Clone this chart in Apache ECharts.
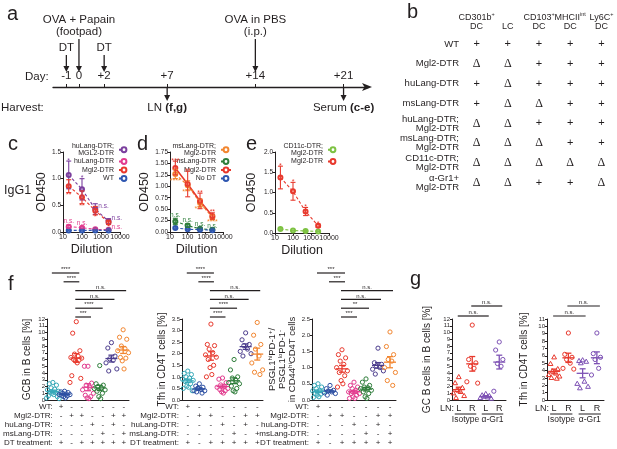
<!DOCTYPE html>
<html>
<head>
<meta charset="utf-8">
<script src="https://cdn.jsdelivr.net/npm/echarts@6/dist/echarts.min.js"></script>
<style>
html, body { margin: 0; padding: 0; background: #fff; }
#chart { width: 617px; height: 449px; }
</style>
</head>
<body>
<div id="chart"></div>
<script>
// ---- a: timeline ----
const dayTicks = [-1, 0, 2, 7, 14, 21];
const injections = [[-1, 'DT'], [0, 'OVA + Papain\n(footpad)'], [2, 'DT'], [14, 'OVA in PBS\n(i.p.)']];
const harvests = [[7, 'LN {b|(f,g)}'], [21, 'Serum {b|(c-e)}']];

// ---- b: depletion table ----
const cellTypes = ['CD301b{s|+}\nDC', 'LC', 'CD103{s|+}\nDC', 'MHCII{s|int}\nDC', 'Ly6C{s|+}\nDC'];
const mouseLines = ['WT', 'Mgl2-DTR', 'huLang-DTR', 'msLang-DTR', 'huLang-DTR;\nMgl2-DTR',
    'msLang-DTR;\nMgl2-DTR', 'CD11c-DTR;\nMgl2-DTR', 'α-Gr1+\nMgl2-DTR'];
const depletion = ['+++++', 'ΔΔ+++', '+Δ+++', '+ΔΔ++', 'ΔΔ+++', 'ΔΔΔ++', 'ΔΔΔΔΔ', 'ΔΔ++Δ'];

// ---- c-e: IgG1 ELISA ----
const dilutions = [20, 100, 500, 2500];
const cGroups = ['huLang-DTR;\nMGL2-DTR', 'huLang-DTR', 'Mgl2-DTR', 'WT'];
const cMeans = [[1.07, 0.80, 0.43, 0.20], [0.10, 0.08, 0.05, 0.04], [0.86, 0.65, 0.40, 0.18], [0.03, 0.03, 0.03, 0.03]];
const cSem = [[0.26, 0.20, 0.10, 0.05], [0.03, 0.02, 0.01, 0.01], [0.12, 0.12, 0.08, 0.04], [0.01, 0.01, 0.01, 0.01]];
const cNotes = [['*', '*', 'n.s.', 'n.s.'], ['n.s.', 'n.s.', '', 'n.s.'], ['**', '**', '*', '*'], ['', '', '', '']];

const dGroups = ['msLang-DTR;\nMgl2-DTR', 'msLang-DTR', 'Mgl2-DTR', 'No DT'];
const dMeans = [[1.27, 1.02, 0.64, 0.32], [0.23, 0.14, 0.07, 0.05], [1.40, 1.05, 0.68, 0.35], [0.09, 0.06, 0.05, 0.04]];
const dSem = [[0.10, 0.10, 0.08, 0.05], [0.07, 0.04, 0.02, 0.01], [0.15, 0.28, 0.17, 0.07], [0.02, 0.01, 0.01, 0.01]];
const dNotes = [['****', '****', '****', '****'], ['n.s.', 'n.s.', 'n.s.', 'n.s.'], ['***', '**', '**', '**'], ['', '', '', '']];

const eGroups = ['CD11c-DTR;\nMgl2-DTR', 'Mgl2-DTR'];
const eMeans = [[0.10, 0.06, 0.05, 0.04], [1.37, 1.03, 0.53, 0.18]];
const eSem = [[0.02, 0.01, 0.01, 0.01], [0.28, 0.22, 0.10, 0.04]];
const eNotes = [['', '', '', ''], ['*', '*', '*', '*']];

// ---- f: LN dot plots ----
const fCats = ['1', '2', '3', '4', '5', '6', '7'];
const fRows = ['WT:', 'Mgl2-DTR:', 'huLang-DTR:', 'msLang-DTR:', 'DT treatment:'];
const fTable = [
    ['+', '-', '-', '-', '-', '-', '-'],
    ['-', '+', '+', '-', '-', '+', '+'],
    ['-', '-', '-', '+', '-', '+', '-'],
    ['-', '-', '-', '-', '+', '-', '+'],
    ['+', '-', '+', '+', '+', '+', '+']
];
const gcbValues = [
    [2.6, 2.4, 2.2, 1.8, 1.6, 1.5, 1.3, 1.2, 1.1, 1.0, 0.8, 0.6, 0.5, 0.3, 0.2],
    [1.3, 1.2, 1.1, 1.0, 0.9, 0.8, 0.8, 0.7, 0.6, 0.5, 0.3],
    [11.6, 9.9, 7.3, 6.8, 6.5, 6.3, 6.2, 6.0, 5.9, 5.8, 5.5, 3.6, 3.2, 2.6],
    [5.0, 5.0, 2.5, 2.2, 1.9, 1.5, 1.0, 0.7, 0.5, 0.3, 0.2],
    [5.1, 2.4, 2.2, 2.0, 1.8, 1.7, 1.5, 1.3, 1.0, 0.5, 0.2],
    [8.5, 7.7, 6.5, 6.1, 5.9, 5.5, 4.6, 4.3],
    [10.4, 9.3, 9.0, 8.0, 7.6, 7.3, 7.0, 6.3, 6.2, 5.8, 4.6]
];
const tfhValues = [
    [1.25, 1.15, 1.1, 1.0, 0.95, 0.9, 0.85, 0.8, 0.7, 0.6, 0.55, 0.5, 0.4],
    [0.7, 0.6, 0.55, 0.5, 0.45, 0.4, 0.4, 0.35, 0.3, 0.5],
    [3.28, 2.4, 2.35, 2.2, 2.05, 1.95, 1.85, 1.75, 1.5, 1.4, 1.1, 1.0],
    [0.95, 0.9, 0.75, 0.65, 0.6, 0.55, 0.5, 0.45, 0.4, 0.35, 0.3],
    [1.75, 1.3, 1.0, 0.95, 0.85, 0.75, 0.7, 0.6, 0.5, 0.4, 0.35],
    [2.9, 2.6, 2.4, 2.35, 2.2, 2.1, 2.0, 1.9],
    [3.35, 2.8, 2.4, 2.2, 1.9, 1.6, 1.3, 1.2, 1.1]
];
const psglValues = [
    [0.5, 0.45, 0.4, 0.35, 0.3, 0.28, 0.25, 0.2, 0.18, 0.15, 0.1, 0.08],
    [0.45, 0.35, 0.3, 0.28, 0.25, 0.22, 0.2, 0.15],
    [1.55, 1.4, 1.3, 1.2, 1.1, 1.0, 0.9, 0.85, 0.75, 0.6, 0.5, 0.4],
    [0.55, 0.45, 0.4, 0.35, 0.3, 0.25, 0.2, 0.2, 0.15, 0.1, 0.05, 0.05],
    [0.65, 0.55, 0.45, 0.4, 0.38, 0.35, 0.3, 0.25, 0.2, 0.1, 0.05],
    [1.6, 1.15, 1.1, 1.05, 1.0, 0.95, 0.9, 0.8],
    [2.1, 1.65, 1.4, 1.25, 1.2, 1.0, 0.85, 0.6, 0.45]
];
const gcbSig = [[2, 3, '***'], [2, 4, '****'], [2, 5, 'n.s.'], [2, 6, 'n.s.'], [1, 2, '****'], [0, 2, '****']];
const tfhSig = [[2, 3, '****'], [2, 4, '****'], [2, 5, 'n.s.'], [2, 6, 'n.s.'], [1, 2, '****'], [0, 2, '****']];
const psglSig = [[2, 3, '***'], [2, 4, '**'], [2, 5, 'n.s.'], [2, 6, 'n.s.'], [1, 2, '***'], [0, 2, '***']];

// ---- g: anti-Gr1 ----
const gCats = ['L', 'R', 'L', 'R'];
const gTreat = [['Isotype', 0, 1], ['α-Gr1', 2, 3]];
const gcValues = [
    [3.4, 2.5, 1.8, 1.5, 1.2, 1.0, 0.6, 0.3],
    [11.1, 6.0, 5.5, 5.0, 4.7, 2.7, 2.5],
    [0.9, 0.7, 0.6, 0.5, 0.4, 0.3, 0.2],
    [8.6, 7.4, 6.0, 5.4, 5.0, 1.3]
];
const gTfhValues = [
    [5.8, 4.9, 4.2, 3.9, 3.6, 3.4, 3.2, 3.0, 2.9],
    [9.1, 6.2, 5.8, 5.5, 5.0, 4.3, 4.2],
    [5.4, 5.3, 5.2, 5.0, 2.5, 2.2, 1.8, 1.6],
    [9.1, 6.3, 5.8, 5.5, 4.3, 3.4]
];
const gSig = [[0, 2, 'n.s.'], [1, 3, 'n.s.']];

// ---- drawing ----
const FONT = '"Liberation Sans", Arial, sans-serif';
const INK = '#231f20';
const RED = '#e8392d';
const JIT = [0, -3.6, 3.6, -1.8, 1.8, -5.4, 5.4, -2.7, 2.7, -0.9, 0.9, -4.5, 4.5, -6.3, 6.3];

const grids = [], xAxes = [], yAxes = [], series = [], legends = [], graphics = [];

function addGrid(g, x, y) {
    const i = grids.length;
    grids.push(g);
    xAxes.push(Object.assign({ gridIndex: i }, x));
    yAxes.push(Object.assign({ gridIndex: i }, y));
    return i;
}

function txt(text, x, y, size, extra) {
    graphics.push({ type: 'text', x: x, y: y, silent: true,
        style: Object.assign({ text: text, fontSize: size, fontFamily: FONT, fill: INK,
            align: 'left', verticalAlign: 'middle' }, extra || {}) });
}

const mean = a => a.reduce((s, v) => s + v, 0) / a.length;
const sem = a => {
    const m = mean(a);
    return Math.sqrt(a.reduce((s, v) => s + (v - m) * (v - m), 0) / (a.length - 1) / a.length);
};

// a
const ga = addGrid({ left: 53, top: 10, width: 315, height: 77 },
    { type: 'value', min: -2.06, max: 22.94,
      axisLine: { show: true, lineStyle: { color: INK, width: 1.3 }, symbol: ['none', 'arrow'], symbolSize: [6, 10], symbolOffset: [0, 4] },
      axisTick: { show: true, inside: true, length: 3, customValues: dayTicks, lineStyle: { color: INK } },
      axisLabel: { inside: true, margin: 5, customValues: dayTicks, fontSize: 11.5, color: INK,
          formatter: v => v > 0 ? '+' + v : '' + v },
      splitLine: { show: false } },
    { type: 'value', min: 0, max: 1, show: false });

function arrow(x, y1, y2, col) {
    return [
        { type: 'line', shape: { x1: x, y1: y1, x2: x, y2: y2 - 5 }, style: { stroke: col, lineWidth: 1.3 } },
        { type: 'polygon', shape: { points: [[x - 3, y2 - 6], [x + 3, y2 - 6], [x, y2]] }, style: { fill: col } }
    ];
}

series.push({ type: 'custom', xAxisIndex: ga, yAxisIndex: ga, clip: false, silent: true,
    data: injections.map(d => [d[0], 0]),
    renderItem: (p, api) => {
        const label = injections[p.dataIndex][1];
        const pt = api.coord([api.value(0), 0]);
        const top = pt[1] - (label.indexOf('\n') >= 0 ? 48 : 32);
        return { type: 'group', children: arrow(pt[0], top, pt[1] - 15, INK).concat([
            { type: 'text', x: pt[0], y: top - 1, style: { text: label, align: 'center', verticalAlign: 'bottom',
                fontSize: 11.5, lineHeight: 12, fontFamily: FONT, fill: INK } }]) };
    } });
series.push({ type: 'custom', xAxisIndex: ga, yAxisIndex: ga, clip: false, silent: true,
    data: harvests.map(d => [d[0], 0]),
    renderItem: (p, api) => {
        const pt = api.coord([api.value(0), 0]);
        return { type: 'group', children: arrow(pt[0], pt[1], pt[1] + 14, INK).concat([
            { type: 'text', x: pt[0], y: pt[1] + 15, style: { text: harvests[p.dataIndex][1], align: 'center', verticalAlign: 'top',
                fontSize: 11.5, fontFamily: FONT, fill: INK,
                rich: { b: { fontSize: 11.5, fontWeight: 'bold', fontFamily: FONT, fill: INK } } } }]) };
    } });
txt('Day:', 25, 77, 11.5);
txt('Harvest:', 1, 108, 11.5);

// b
const gb = addGrid({ left: 461, right: 0, top: 34, height: 159 },
    { type: 'category', data: cellTypes, position: 'top', axisLine: { show: false }, axisTick: { show: false },
      axisLabel: { interval: 0, margin: 3, fontSize: 9, lineHeight: 9, color: INK,
          rich: { s: { fontSize: 5.5, verticalAlign: 'bottom', padding: [0, 0, 5, 0], color: INK } } } },
    { type: 'category', data: mouseLines, inverse: true, axisLine: { show: false }, axisTick: { show: false },
      axisLabel: { interval: 0, margin: 2, fontSize: 9.5, lineHeight: 9, color: INK } });
const bCells = [];
depletion.forEach((row, r) => Array.from(row).forEach((s, c) => bCells.push([c, r])));
series.push({ type: 'custom', xAxisIndex: gb, yAxisIndex: gb, clip: false, silent: true, data: bCells,
    renderItem: (p, api) => {
        const pt = api.coord([api.value(0), api.value(1)]);
        const s = Array.from(depletion[api.value(1)])[api.value(0)];
        return { type: 'text', x: pt[0], y: pt[1], style: { text: s, align: 'center', verticalAlign: 'middle',
            fontSize: s === 'Δ' ? 12 : 11, fontFamily: s === 'Δ' ? '"Liberation Serif", serif' : FONT, fill: INK } };
    } });

// c-e
function linePanel(cfg) {
    const gi = addGrid({ left: cfg.left, top: 152, width: cfg.width, height: cfg.height },
        { type: 'log', logBase: 10, min: 10, max: 10000, name: 'Dilution', nameLocation: 'middle', nameGap: 11,
          nameTextStyle: { fontSize: 12.5, color: INK },
          axisLine: { lineStyle: { color: INK, width: 1 } }, axisTick: { length: 2.5, lineStyle: { color: INK } },
          axisLabel: { fontSize: 7, margin: 2, color: INK, formatter: v => String(Math.round(v)) },
          splitLine: { show: false } },
        { type: 'value', min: 0, max: cfg.ymax, interval: cfg.yint, name: 'OD450', nameLocation: 'middle', nameGap: cfg.nameGap,
          nameTextStyle: { fontSize: 12.5, color: INK },
          axisLine: { show: true, lineStyle: { color: INK, width: 1 } }, axisTick: { show: true, length: 2.5, lineStyle: { color: INK } },
          axisLabel: { fontSize: 6.5, margin: 2, color: INK, formatter: v => v.toFixed(cfg.dec) },
          splitLine: { show: false } });
    cfg.groups.forEach((g, k) => {
        const st = cfg.styles[k];
        const name = cfg.id + k;
        series.push({ type: 'line', name: name, xAxisIndex: gi, yAxisIndex: gi, z: 3,
            data: dilutions.map((d, i) => [d, cfg.means[k][i]]),
            symbol: 'emptyCircle', symbolSize: 4,
            lineStyle: { color: st.color, width: st.solid ? 1.6 : 1.1, type: st.solid ? 'solid' : [3, 2] },
            itemStyle: { color: st.color, borderWidth: 1 } });
        series.push({ type: 'custom', xAxisIndex: gi, yAxisIndex: gi, clip: false, silent: true, z: 4,
            data: dilutions.map((d, i) => [d, cfg.means[k][i], cfg.sem[k][i]]),
            renderItem: (p, api) => {
                const x = api.value(0), m = api.value(1), e = api.value(2);
                const hi = api.coord([x, m + e]), lo = api.coord([x, Math.max(m - e, 0)]), pt = api.coord([x, m]);
                const ch = [
                    { type: 'line', shape: { x1: pt[0], y1: hi[1], x2: pt[0], y2: lo[1] }, style: { stroke: st.color, lineWidth: 1.1 } },
                    { type: 'line', shape: { x1: pt[0] - 2.5, y1: hi[1], x2: pt[0] + 2.5, y2: hi[1] }, style: { stroke: st.color, lineWidth: 1.1 } },
                    { type: 'line', shape: { x1: pt[0] - 2.5, y1: lo[1], x2: pt[0] + 2.5, y2: lo[1] }, style: { stroke: st.color, lineWidth: 1.1 } }
                ];
                const note = cfg.notes[k][p.dataIndex];
                const side = st.side[p.dataIndex];
                if (note) {
                    const big = note.indexOf('*') >= 0;
                    const base = { text: note, fontSize: big ? 7 : 6.5, fontFamily: FONT, fill: st.color };
                    if (side === 'top') {
                        ch.push({ type: 'text', x: pt[0], y: hi[1] + (big ? 3 : 0), style: Object.assign({ align: 'center', verticalAlign: 'bottom' }, base) });
                    } else if (side === 'bottom') {
                        ch.push({ type: 'text', x: pt[0], y: lo[1] - 1, style: Object.assign({ align: 'center', verticalAlign: 'top' }, base) });
                    } else {
                        ch.push({ type: 'text', x: pt[0] + 3, y: pt[1] - 3, style: Object.assign({ align: 'left', verticalAlign: 'middle' }, base) });
                    }
                }
                return { type: 'group', children: ch };
            } });
    });
    legends.push({ right: cfg.legendRight, top: 143, orient: 'vertical', align: 'right', padding: 0, itemGap: 1.5,
        itemWidth: 10, itemHeight: 6, selectedMode: false,
        data: cfg.groups.map((g, k) => cfg.id + k),
        formatter: n => cfg.groups[+n.slice(cfg.id.length)],
        textStyle: { fontSize: 7, lineHeight: 6.5, color: INK, fontFamily: FONT, padding: 0 } });
}

const PUR = '#7b3f9e', PINK = '#e23b8e', BLUE = '#2e56b0', ORNG = '#f28630', DGRN = '#2e7d3a', LGRN = '#7dc242';
const T4 = ['top', 'top', 'top', 'top'], B4 = ['bottom', 'bottom', 'bottom', 'bottom'];
linePanel({ id: 'c', left: 63, width: 57, height: 80, ymax: 1.5, yint: 0.5, dec: 1, nameGap: 15, legendRight: 487,
    groups: cGroups, means: cMeans, sem: cSem, notes: cNotes,
    styles: [{ color: PUR, side: ['top', 'top', 'right', 'right'] }, { color: PINK, side: ['top', 'top', 'top', 'right'] },
             { color: RED, side: B4 }, { color: BLUE, side: T4 }] });
linePanel({ id: 'd', left: 170, width: 53, height: 80, ymax: 1.75, yint: 0.25, dec: 2, nameGap: 19, legendRight: 385,
    groups: dGroups, means: dMeans, sem: dSem, notes: dNotes,
    styles: [{ color: ORNG, side: B4 }, { color: DGRN, side: T4 }, { color: RED, side: T4, solid: true }, { color: BLUE, side: T4 }] });
linePanel({ id: 'e', left: 275, width: 54, height: 81, ymax: 2.0, yint: 0.5, dec: 1, nameGap: 17, legendRight: 278,
    groups: eGroups, means: eMeans, sem: eSem, notes: eNotes,
    styles: [{ color: LGRN, side: T4 }, { color: RED, side: T4 }] });
txt('IgG1', 4, 191, 12.5);

// f, g dot plots
function dotPanel(cfg) {
    const gi = addGrid({ left: cfg.left, top: 319, width: cfg.width, height: 81 },
        { type: 'category', data: cfg.cats, axisLine: { lineStyle: { color: INK, width: 1 } }, axisTick: { show: false },
          axisLabel: cfg.xLabels ? { interval: 0, margin: 4, fontSize: 9, color: INK } : { show: false } },
        { type: 'value', min: 0, max: cfg.ymax, interval: cfg.yint, name: cfg.yname, nameLocation: 'middle', nameGap: cfg.nameGap,
          nameTextStyle: { fontSize: cfg.nameSize || 10, lineHeight: cfg.nameLine || 11, color: INK,
              rich: { s: { fontSize: 6, verticalAlign: 'bottom', padding: [0, 0, 4, 0], color: INK } } },
          axisLine: { show: true, lineStyle: { color: INK, width: 1 } }, axisTick: { show: true, length: 2, lineStyle: { color: INK } },
          axisLabel: { fontSize: 6, margin: 2, color: INK, formatter: v => v.toFixed(cfg.dec) },
          splitLine: { show: false } });
    const pts = [];
    cfg.values.forEach((arr, c) => arr.forEach((v, k) => pts.push([c, v, k])));
    series.push({ type: 'custom', xAxisIndex: gi, yAxisIndex: gi, clip: false, silent: true, data: pts,
        renderItem: (p, api) => {
            const c = api.value(0);
            const pt = api.coord([c, api.value(1)]);
            const x = pt[0] + JIT[api.value(2) % JIT.length], y = pt[1];
            const st = { fill: 'none', stroke: cfg.colors[c], lineWidth: 1 };
            if (cfg.shapes && cfg.shapes[c] === 'tri') {
                return { type: 'polygon', shape: { points: [[x, y - 2.6], [x + 2.4, y + 1.6], [x - 2.4, y + 1.6]] }, style: st };
            }
            return { type: 'circle', shape: { cx: x, cy: y, r: 2.1 }, style: st };
        } });
    series.push({ type: 'custom', xAxisIndex: gi, yAxisIndex: gi, clip: false, silent: true, z: 4,
        data: cfg.values.map((arr, c) => [c, mean(arr), sem(arr)]),
        renderItem: (p, api) => {
            const c = api.value(0), m = api.value(1), e = api.value(2);
            const pt = api.coord([c, m]), hi = api.coord([c, m + e]), lo = api.coord([c, m - e]);
            const s = { stroke: cfg.colors[c], lineWidth: 1.3 };
            return { type: 'group', children: [
                { type: 'line', shape: { x1: pt[0] - 6, y1: pt[1], x2: pt[0] + 6, y2: pt[1] }, style: s },
                { type: 'line', shape: { x1: pt[0], y1: hi[1], x2: pt[0], y2: lo[1] }, style: s },
                { type: 'line', shape: { x1: pt[0] - 3, y1: hi[1], x2: pt[0] + 3, y2: hi[1] }, style: s },
                { type: 'line', shape: { x1: pt[0] - 3, y1: lo[1], x2: pt[0] + 3, y2: lo[1] }, style: s }
            ] };
        } });
    series.push({ type: 'custom', xAxisIndex: gi, yAxisIndex: gi, clip: false, silent: true,
        data: cfg.sig.map((s, i) => [s[0], 0]),
        renderItem: (p, api) => {
            const s = cfg.sig[p.dataIndex];
            const xa = api.coord([s[0], 0])[0] - 1, xb = api.coord([s[1], 0])[0] + 3;
            const y = api.coord([0, cfg.ymax])[1] - cfg.sigBase - p.dataIndex * cfg.sigStep;
            return { type: 'group', children: [
                { type: 'line', shape: { x1: xa, y1: y, x2: xb, y2: y }, style: { stroke: INK, lineWidth: 1.2 } },
                { type: 'text', x: (xa + xb) / 2, y: y - 0.5, style: { text: s[2], align: 'center', verticalAlign: 'bottom',
                    fontSize: 6, fontFamily: FONT, fill: INK } }
            ] };
        } });
    return gi;
}

function fTablePanel(left, width) {
    const ti = addGrid({ left: left, top: 402, width: width, height: 45 },
        { type: 'category', data: fCats, show: false },
        { type: 'category', data: fRows, inverse: true, axisLine: { show: false }, axisTick: { show: false },
          axisLabel: { interval: 0, margin: 3, fontSize: 8, color: INK } });
    const cells = [];
    fTable.forEach((row, r) => row.forEach((s, c) => cells.push([c, r])));
    series.push({ type: 'custom', xAxisIndex: ti, yAxisIndex: ti, clip: false, silent: true, data: cells,
        renderItem: (p, api) => {
            const pt = api.coord([api.value(0), api.value(1)]);
            return { type: 'text', x: pt[0], y: pt[1], style: { text: fTable[api.value(1)][api.value(0)],
                align: 'center', verticalAlign: 'middle', fontSize: 8, fontFamily: FONT, fill: INK } };
        } });
}

const fColors = ['#35a8b8', '#2d50a3', RED, PINK, DGRN, '#4b3c8d', ORNG];
dotPanel({ left: 47, width: 82, cats: fCats, values: gcbValues, colors: fColors, ymax: 12, yint: 1, dec: 0,
    yname: 'GCB in B cells [%]', nameGap: 14, sig: gcbSig, sigBase: 2, sigStep: 8.8 });
dotPanel({ left: 182, width: 81, cats: fCats, values: tfhValues, colors: fColors, ymax: 3.5, yint: 0.5, dec: 1,
    yname: 'Tfh in CD4T cells [%]', nameGap: 11, sig: tfhSig, sigBase: 2, sigStep: 8.8 });
dotPanel({ left: 312, width: 84, cats: fCats, values: psglValues, colors: fColors, ymax: 2.5, yint: 0.5, dec: 1,
    yname: 'PSGL1{s|hi}PD-1{s|+}/\nPSGL1{s|lo}PD-1{s|-}\nin CD44{s|hi}CD4T cells', nameGap: 8, nameSize: 9.5, nameLine: 10,
    sig: psglSig, sigBase: 2, sigStep: 8.8 });
fTablePanel(47, 82);
fTablePanel(182, 81);
fTablePanel(312, 84);

const gColors = [RED, RED, '#7e52b5', '#7e52b5'];
const gShapes = ['tri', 'circ', 'tri', 'circ'];
function gGroups(gi) {
    series.push({ type: 'custom', xAxisIndex: gi, yAxisIndex: gi, clip: false, silent: true,
        data: gTreat.map(t => [t[1], 0]),
        renderItem: (p, api) => {
            const t = gTreat[p.dataIndex];
            const a = api.coord([t[1], 0]), b = api.coord([t[2], 0]);
            const y = a[1] + 14;
            return { type: 'group', children: [
                { type: 'line', shape: { x1: a[0] - 4, y1: y, x2: b[0] + 4, y2: y }, style: { stroke: INK, lineWidth: 1 } },
                { type: 'text', x: (a[0] + b[0]) / 2, y: y + 1.5, style: { text: t[0], align: 'center', verticalAlign: 'top',
                    fontSize: 8.5, fontFamily: FONT, fill: INK } }
            ] };
        } });
}
const g1 = dotPanel({ left: 452, width: 54, cats: gCats, xLabels: true, values: gcValues, colors: gColors, shapes: gShapes,
    ymax: 12, yint: 1, dec: 0, yname: 'GC B cells in B cells [%]', nameGap: 19, sig: gSig, sigBase: 3, sigStep: 10 });
const g2 = dotPanel({ left: 547, width: 57, cats: gCats, xLabels: true, values: gTfhValues, colors: gColors, shapes: gShapes,
    ymax: 11, yint: 1, dec: 0, yname: 'Tfh in CD4T cells [%]', nameGap: 17, sig: gSig, sigBase: 3, sigStep: 10 });
gGroups(g1);
gGroups(g2);
txt('LN:', 440, 409, 9);
txt('LN:', 535, 409, 9);

// panel letters
[['a', 7, 14], ['b', 407, 12], ['c', 8, 144], ['d', 137, 144], ['e', 246, 144], ['f', 8, 284], ['g', 410, 279]]
    .forEach(l => txt(l[0], l[1], l[2], 20));

const chart = echarts.init(document.getElementById('chart'));
chart.setOption({
    animation: false,
    backgroundColor: '#fff',
    textStyle: { fontFamily: FONT },
    grid: grids,
    xAxis: xAxes,
    yAxis: yAxes,
    legend: legends,
    series: series,
    graphic: graphics
});
</script>
</body>
</html>
